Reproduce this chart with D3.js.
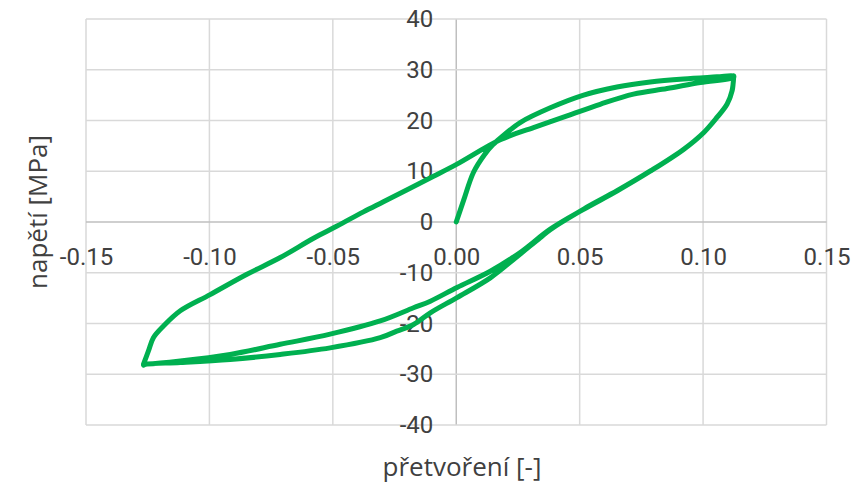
<!DOCTYPE html>
<html>
<head>
<meta charset="utf-8">
<script src="https://cdn.jsdelivr.net/npm/d3@7"></script>
<style>
  html, body { margin: 0; padding: 0; background: #fff; }
  svg text { font-family: Roboto, "Noto Sans", sans-serif; fill: #404040; }
</style>
</head>
<body>
<svg id="chart" width="857" height="485"></svg>
<script>
// Cyclic stress–strain test: virgin loading, two unload/reload cycles.
// Strain [-] and stress [MPa], in the order the points were recorded.
const virginStrain = [0, 0.003, 0.007, 0.0115, 0.0148, 0.0185, 0.0259, 0.0381, 0.0516, 0.0651, 0.0786, 0.0921, 0.1056, 0.1124];
const virginStress = [0, 4.3, 9.8, 13.3, 15.2, 16.8, 19.6, 22.5, 25.0, 26.6, 27.6, 28.2, 28.6, 28.8];

const unload1Strain = [0.1124, 0.1117, 0.1097, 0.1056, 0.1002, 0.0921, 0.0786, 0.0651, 0.0516, 0.0381, 0.0259, 0.0138, 0.0003, -0.0105, -0.0173, -0.0308, -0.0511, -0.0713, -0.0916, -0.1118, -0.1253, -0.1267];
const unload1Stress = [28.6, 25.8, 23.2, 20.6, 17.6, 14.3, 10.0, 6.1, 2.5, -1.4, -6.0, -9.7, -12.9, -15.6, -16.9, -19.5, -22.1, -24.1, -26.1, -27.4, -28.0, -28.0];

const reloadStrain = [-0.1267, -0.1247, -0.1227, -0.1186, -0.1118, -0.0997, -0.0848, -0.0713, -0.0578, -0.0483, -0.0376, -0.0295, -0.0092, 0.0003, 0.0178, 0.0313, 0.0449, 0.0583, 0.0718, 0.0854, 0.0989, 0.1124];
const reloadStress = [-28.0, -25.4, -22.8, -20.5, -17.5, -14.3, -10.3, -7.0, -3.2, -0.8, 2.0, 4.0, 9.0, 11.4, 16.2, 18.6, 20.9, 23.2, 25.2, 26.3, 27.5, 28.5];

const unload2Strain = [0.1124, 0.1118, 0.1098, 0.1058, 0.1004, 0.0923, 0.0788, 0.0653, 0.0518, 0.0381, 0.034, 0.0232, 0.0138, 0.0003, -0.0105, -0.0173, -0.0241, -0.0308, -0.0511, -0.0713, -0.0916, -0.1118, -0.1253, -0.1267];
const unload2Stress = [28.8, 25.9, 23.3, 20.7, 17.7, 14.4, 10.1, 6.2, 2.6, -1.5, -3.1, -7.4, -11.0, -14.9, -17.9, -20.2, -21.5, -22.8, -24.8, -26.1, -27.1, -27.7, -28.0, -28.2];

const xTicks = [-0.15, -0.10, -0.05, 0.00, 0.05, 0.10, 0.15];
const yTicks = [-40, -30, -20, -10, 0, 10, 20, 30, 40];
const xTitle = "přetvoření [-]";
const yTitle = "napětí [MPa]";

// One continuous series, as recorded
const strain = [].concat(virginStrain, unload1Strain, reloadStrain, unload2Strain);
const stress = [].concat(virginStress, unload1Stress, reloadStress, unload2Stress);
const points = strain.map((s, i) => [s, stress[i]]);

const svg = d3.select("#chart");
const x = d3.scaleLinear().domain([-0.15, 0.15]).range([86, 826.5]);
const y = d3.scaleLinear().domain([-40, 40]).range([425, 19]);

// Grid
const grid = svg.append("g");
grid.selectAll("line.v").data(xTicks).join("line")
  .attr("x1", d => x(d)).attr("x2", d => x(d))
  .attr("y1", y(40)).attr("y2", y(-40))
  .attr("stroke", d => d === 0 ? "#bfbfbf" : "#d9d9d9").attr("stroke-width", 1.5);
grid.selectAll("line.h").data(yTicks).join("line")
  .attr("x1", x(-0.15)).attr("x2", x(0.15))
  .attr("y1", d => y(d)).attr("y2", d => y(d))
  .attr("stroke", d => d === 0 ? "#bfbfbf" : "#d9d9d9").attr("stroke-width", 1.5);

// Tick labels sit on the axes that cross at the origin
const xAxis = d3.axisBottom(x).tickValues(xTicks).tickSize(0).tickPadding(26)
  .tickFormat(d => d3.format(".2f")(d).replace("−", "-"));
const gx = svg.append("g").attr("transform", `translate(0,${y(0)})`).call(xAxis);
gx.select(".domain").remove();
gx.selectAll("text").attr("font-size", 24).style("font-family", "Roboto, sans-serif").attr("fill", "#404040");

const yAxis = d3.axisLeft(y).tickValues(yTicks).tickFormat(d => String(d)).tickSize(0).tickPadding(23);
const gy = svg.append("g").attr("transform", `translate(${x(0)},0)`).call(yAxis);
gy.select(".domain").remove();
gy.selectAll("text").attr("font-size", 24).style("font-family", "Roboto, sans-serif").attr("fill", "#404040");

// Series
const line = d3.line().x(d => x(d[0])).y(d => y(d[1])).curve(d3.curveCatmullRom.alpha(0.5));
svg.append("path").datum(points)
  .attr("d", line)
  .attr("fill", "none")
  .attr("stroke", "#00b050")
  .attr("stroke-width", 5)
  .attr("stroke-linejoin", "round")
  .attr("stroke-linecap", "round");

// Axis titles
svg.append("text").attr("x", 462).attr("y", 476)
  .attr("text-anchor", "middle").attr("font-size", 26)
  .style("font-family", "'Open Sans', sans-serif").text(xTitle);
svg.append("text").attr("transform", "translate(40,212) rotate(-90)")
  .attr("text-anchor", "middle").attr("dominant-baseline", "middle").attr("font-size", 26)
  .style("font-family", "'Open Sans', sans-serif").text(yTitle);
</script>
</body>
</html>
